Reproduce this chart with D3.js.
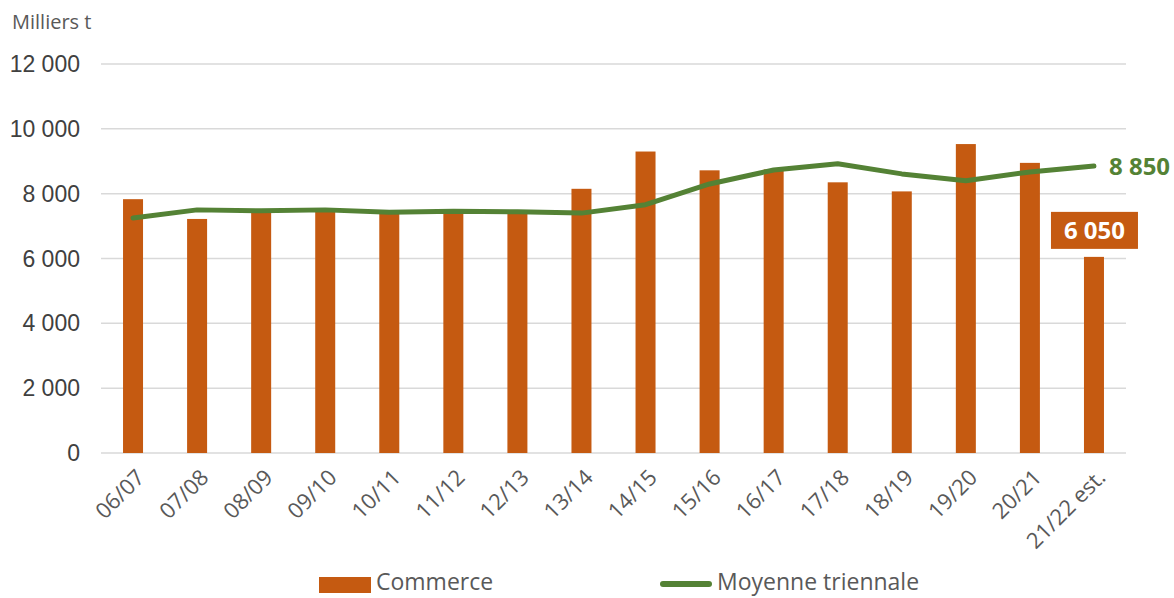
<!DOCTYPE html>
<html lang="fr">
<head>
<meta charset="UTF-8">
<title>Commerce</title>
<script src="https://d3js.org/d3.v7.min.js"></script>
<style>
    body, html { margin: 0; background: #fff; }
    svg { display: block; }
</style>
</head>
<body>
<div id="chart"></div>
<script>
const categories = ["06/07", "07/08", "08/09", "09/10", "10/11", "11/12", "12/13", "13/14",
    "14/15", "15/16", "16/17", "17/18", "18/19", "19/20", "20/21", "21/22 est."]
const commerce = [7830, 7220, 7460, 7520, 7380, 7450, 7420, 8150, 9300, 8720, 8750, 8350, 8070, 9530, 8950, 6050]
const moyenne = [7250, 7500, 7470, 7500, 7430, 7460, 7440, 7400, 7660, 8300, 8730, 8920, 8610, 8400, 8670, 8850]
const yTicks = [0, 2000, 4000, 6000, 8000, 10000, 12000]

const width = 1174, height = 598
const margin = { top: 64, right: 48, bottom: 145, left: 101 }
const font = "'Open Sans', sans-serif"

const fmt = v => d3.format(",")(v).replace(/,/g, " ")

const svg = d3.select("#chart").append("svg")
    .attr("width", width)
    .attr("height", height)

const x = d3.scaleBand()
    .domain(categories)
    .range([margin.left, width - margin.right])

const y = d3.scaleLinear()
    .domain([0, 12000])
    .range([height - margin.bottom, margin.top])

// grid
svg.append("g")
    .selectAll("line")
    .data(yTicks)
    .join("line")
    .attr("x1", margin.left)
    .attr("x2", width - margin.right)
    .attr("y1", d => y(d))
    .attr("y2", d => y(d))
    .attr("stroke", "#d9d9d9")
    .attr("stroke-width", 1.5)

// y labels
svg.append("g")
    .selectAll("text")
    .data(yTicks)
    .join("text")
    .attr("x", 80)
    .attr("y", d => y(d))
    .attr("dy", "0.35em")
    .attr("text-anchor", "end")
    .style("font-family", "'Liberation Sans', Arial, sans-serif")
    .style("font-size", "23px")
    .style("fill", "#404040")
    .text(d => fmt(d))

svg.append("text")
    .attr("x", 12)
    .attr("y", 29)
    .style("font-family", font)
    .style("font-size", "20px")
    .style("fill", "#595959")
    .text("Milliers t")

// bars
const barW = 20
svg.append("g")
    .selectAll("rect")
    .data(commerce)
    .join("rect")
    .attr("x", (d, i) => x(categories[i]) + x.bandwidth() / 2 - barW / 2)
    .attr("y", d => y(d))
    .attr("width", barW)
    .attr("height", d => y(0) - y(d))
    .attr("fill", "#c55a11")

// line
const line = d3.line()
    .x((d, i) => x(categories[i]) + x.bandwidth() / 2)
    .y(d => y(d))

svg.append("path")
    .datum(moyenne)
    .attr("d", line)
    .attr("fill", "none")
    .attr("stroke", "#548235")
    .attr("stroke-width", 5)
    .attr("stroke-linejoin", "round")
    .attr("stroke-linecap", "round")

// x labels
svg.append("g")
    .selectAll("text")
    .data(categories)
    .join("text")
    .attr("transform", d => `translate(${x(d) + x.bandwidth() / 2 + 2},${y(0) + 15}) rotate(-45)`)
    .attr("text-anchor", "end")
    .attr("dy", "0.7em")
    .style("font-family", font)
    .style("font-size", "22px")
    .style("fill", "#595959")
    .text(d => d)

// end labels
const lastI = categories.length - 1
const lastX = x(categories[lastI]) + x.bandwidth() / 2
svg.append("text")
    .attr("x", lastX + 15)
    .attr("y", y(moyenne[lastI]))
    .attr("dy", "0.35em")
    .style("font-family", font)
    .style("font-weight", "bold")
    .style("font-size", "24px")
    .style("fill", "#548235")
    .text(fmt(moyenne[lastI]))

const boxW = 87, boxH = 37
svg.append("rect")
    .attr("x", lastX - 43)
    .attr("y", y(commerce[lastI]) - boxH - 8)
    .attr("width", boxW)
    .attr("height", boxH)
    .attr("fill", "#c55a11")
svg.append("text")
    .attr("x", lastX - 43 + boxW / 2)
    .attr("y", y(commerce[lastI]) - 8 - boxH / 2)
    .attr("dy", "0.35em")
    .attr("text-anchor", "middle")
    .style("font-family", font)
    .style("font-weight", "bold")
    .style("font-size", "24px")
    .style("fill", "#fff")
    .text(fmt(commerce[lastI]))

// legend
const leg = svg.append("g")
leg.append("rect")
    .attr("x", 319).attr("y", 577).attr("width", 52).attr("height", 16)
    .attr("fill", "#c55a11")
leg.append("text")
    .attr("x", 376).attr("y", 590)
    .style("font-family", font)
    .style("font-size", "23px")
    .style("fill", "#595959")
    .text("Commerce")
leg.append("line")
    .attr("x1", 663).attr("x2", 709).attr("y1", 584).attr("y2", 584)
    .attr("stroke", "#548235").attr("stroke-width", 6).attr("stroke-linecap", "round")
leg.append("text")
    .attr("x", 717).attr("y", 590)
    .style("font-family", font)
    .style("font-size", "23px")
    .style("fill", "#595959")
    .text("Moyenne triennale")
</script>
</body>
</html>
